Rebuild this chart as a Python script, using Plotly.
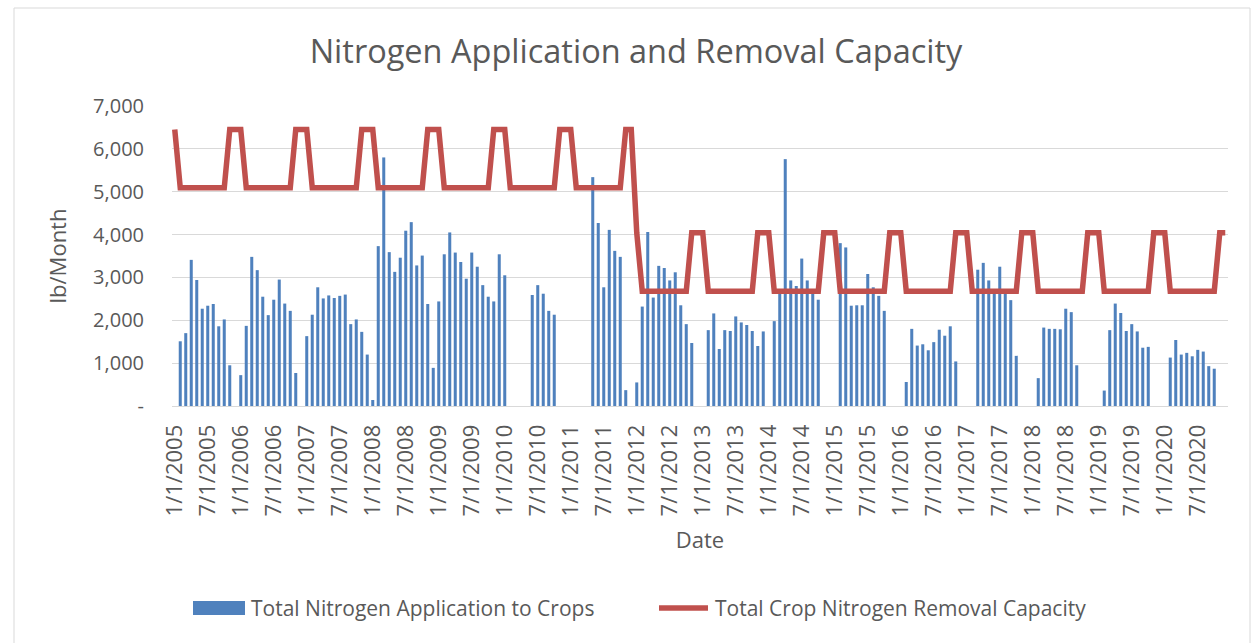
import plotly.graph_objects as go

# Monthly values, Jan..Dec per year (lb/Month)
application = {
    2005: [0, 1510, 1700, 3410, 2940, 2270, 2340, 2380, 1860, 2020, 950, 0],
    2006: [720, 1870, 3480, 3170, 2550, 2120, 2480, 2950, 2390, 2220, 770, 0],
    2007: [1630, 2130, 2770, 2510, 2580, 2520, 2570, 2600, 1910, 2020, 1730, 1200],
    2008: [140, 3730, 5800, 3590, 3130, 3460, 4090, 4290, 3280, 3510, 2380, 890],
    2009: [2440, 3540, 4050, 3580, 3360, 2970, 3580, 3250, 2820, 2550, 2440, 3540],
    2010: [3050, 0, 0, 0, 0, 2590, 2820, 2620, 2220, 2130, 0, 0],
    2011: [0, 0, 0, 0, 5340, 4270, 2770, 4110, 3620, 3480, 370, 0],
    2012: [550, 2320, 4060, 2530, 3270, 3220, 2930, 3120, 2350, 1910, 1470, 0],
    2013: [0, 1770, 2160, 1330, 1770, 1750, 2090, 1950, 1890, 1750, 1400, 1740],
    2014: [0, 1980, 2700, 5760, 2930, 2800, 3440, 2930, 2680, 2480, 0, 0],
    2015: [0, 3800, 3700, 2340, 2350, 2350, 3080, 2770, 2570, 2220, 0, 0],
    2016: [0, 560, 1800, 1410, 1440, 1300, 1490, 1780, 1640, 1860, 1040, 0],
    2017: [0, 0, 3180, 3340, 2930, 2700, 3250, 2700, 2470, 1170, 0, 0],
    2018: [0, 650, 1830, 1800, 1800, 1790, 2270, 2190, 950, 0, 0, 0],
    2019: [0, 360, 1770, 2390, 2170, 1750, 1910, 1740, 1360, 1380, 0, 0],
    2020: [0, 1130, 1540, 1200, 1240, 1160, 1310, 1270, 930, 870, 0, 0],
}

removal = {
    2005: [6450, 5090, 5090, 5090, 5090, 5090, 5090, 5090, 5090, 5090, 6450, 6450],
    2006: [6450, 5090, 5090, 5090, 5090, 5090, 5090, 5090, 5090, 5090, 6450, 6450],
    2007: [6450, 5090, 5090, 5090, 5090, 5090, 5090, 5090, 5090, 5090, 6450, 6450],
    2008: [6450, 5090, 5090, 5090, 5090, 5090, 5090, 5090, 5090, 5090, 6450, 6450],
    2009: [6450, 5090, 5090, 5090, 5090, 5090, 5090, 5090, 5090, 5090, 6450, 6450],
    2010: [6450, 5090, 5090, 5090, 5090, 5090, 5090, 5090, 5090, 5090, 6450, 6450],
    2011: [6450, 5090, 5090, 5090, 5090, 5090, 5090, 5090, 5090, 5090, 6450, 6450],
    2012: [4040, 2680, 2680, 2680, 2680, 2680, 2680, 2680, 2680, 2680, 4040, 4040],
    2013: [4040, 2680, 2680, 2680, 2680, 2680, 2680, 2680, 2680, 2680, 4040, 4040],
    2014: [4040, 2680, 2680, 2680, 2680, 2680, 2680, 2680, 2680, 2680, 4040, 4040],
    2015: [4040, 2680, 2680, 2680, 2680, 2680, 2680, 2680, 2680, 2680, 4040, 4040],
    2016: [4040, 2680, 2680, 2680, 2680, 2680, 2680, 2680, 2680, 2680, 4040, 4040],
    2017: [4040, 2680, 2680, 2680, 2680, 2680, 2680, 2680, 2680, 2680, 4040, 4040],
    2018: [4040, 2680, 2680, 2680, 2680, 2680, 2680, 2680, 2680, 2680, 4040, 4040],
    2019: [4040, 2680, 2680, 2680, 2680, 2680, 2680, 2680, 2680, 2680, 4040, 4040],
    2020: [4040, 2680, 2680, 2680, 2680, 2680, 2680, 2680, 2680, 2680, 4040, 4040],
}

years = list(range(2005, 2021))
dates = [f"{m}/1/{y}" for y in years for m in range(1, 13)]
app_vals = [v for y in years for v in application[y]]
rem_vals = [v for y in years for v in removal[y]]

tick_dates = [f"{m}/1/{y}" for y in years for m in (1, 7)]
y_ticks = [0, 1000, 2000, 3000, 4000, 5000, 6000, 7000]
y_tick_text = ["-", "1,000", "2,000", "3,000", "4,000", "5,000", "6,000", "7,000"]

name_app = "Total Nitrogen Application to Crops"
name_rem = "Total Crop Nitrogen Removal Capacity"

FONT = "Open Sans"
TXT = "#595959"
BLUE = "#4F81BD"
RED = "#C0504D"

fig = go.Figure()
fig.add_trace(go.Bar(
    x=dates, y=app_vals, name=name_app,
    marker=dict(color=BLUE, line=dict(width=0)),
))
fig.add_trace(go.Scatter(
    x=dates, y=rem_vals, name=name_rem,
    mode="lines", line=dict(color=RED, width=5.5),
))

L, R, T, B = 172, 26, 106, 237
W, H = 1254, 643
pw, ph = W - L - R, H - T - B


def px(x):
    return (x - L) / pw


def py(y):
    return (H - B - y) / ph


fig.update_layout(
    width=W, height=H,
    margin=dict(l=L, r=R, t=T, b=B, autoexpand=False),
    paper_bgcolor="white", plot_bgcolor="white",
    bargap=0.45,
    showlegend=False,
    font=dict(family=FONT, color=TXT),
    title=dict(text="Nitrogen Application and Removal Capacity",
               xref="container", x=636 / W, xanchor="center",
               yref="container", y=1 - 52 / H, yanchor="middle",
               font=dict(size=32.5, color=TXT, family=FONT)),
    xaxis=dict(
        type="category", categoryorder="array", categoryarray=dates,
        tickmode="array", tickvals=tick_dates, ticktext=tick_dates,
        tickangle=-90, tickfont=dict(size=22, color=TXT),
        showgrid=False, showline=True, linecolor="#D9D9D9", linewidth=1,
        ticks="", ticklabelstandoff=9, automargin=False,
        title=dict(text="Date", font=dict(size=22, color=TXT), standoff=17),
        range=[-0.5, len(dates) - 0.5],
    ),
    yaxis=dict(
        range=[0, 7000], tickmode="array", tickvals=y_ticks, ticktext=y_tick_text,
        tickfont=dict(size=20, color=TXT),
        showgrid=True, gridcolor="#D9D9D9", gridwidth=1,
        zeroline=False, showline=False, ticks="", ticklabelstandoff=27,
        automargin=False,
        title=dict(text="lb/Month", font=dict(size=22, color=TXT), standoff=20),
    ),
)

# outer chart border
fig.add_shape(type="rect", xref="paper", yref="paper",
              x0=px(14), x1=px(1250), y0=py(660), y1=py(8),
              line=dict(color="#D9D9D9", width=1), fillcolor="rgba(0,0,0,0)",
              layer="below")

# custom legend (wide swatches like the original)
LEG_Y = 608
fig.add_shape(type="rect", xref="paper", yref="paper",
              x0=px(193), x1=px(245), y0=py(LEG_Y + 7), y1=py(LEG_Y - 7),
              line=dict(width=0), fillcolor=BLUE)
fig.add_shape(type="line", xref="paper", yref="paper",
              x0=px(659), x1=px(708), y0=py(LEG_Y), y1=py(LEG_Y),
              line=dict(color=RED, width=5.5))
fig.add_annotation(text=name_app, xref="paper", yref="paper",
                   x=px(249), y=py(LEG_Y), xanchor="left", yanchor="middle",
                   showarrow=False, font=dict(size=21, color=TXT, family=FONT))
fig.add_annotation(text=name_rem, xref="paper", yref="paper",
                   x=px(713), y=py(LEG_Y), xanchor="left", yanchor="middle",
                   showarrow=False, font=dict(size=21, color=TXT, family=FONT))

fig.write_html("out.html", config={"displayModeBar": False},
               post_script="document.body.style.margin='0px';")
